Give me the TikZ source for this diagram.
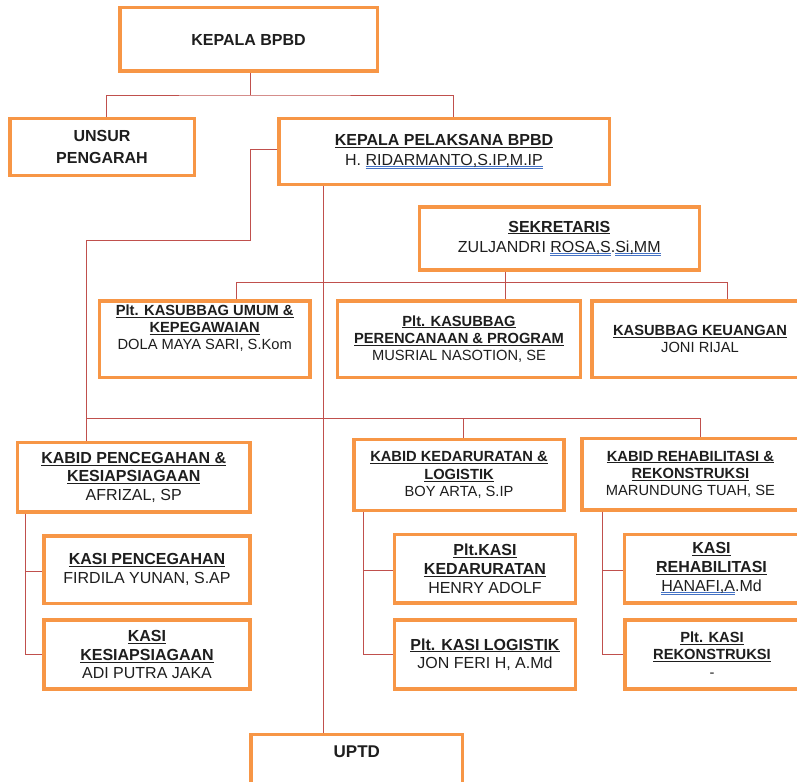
\documentclass[tikz,border=0pt]{standalone}
\usepackage{fontspec}
\setmainfont{Liberation Sans}
\definecolor{boxorange}{HTML}{F79646}
\definecolor{linkred}{HTML}{C0504D}
\definecolor{spell}{HTML}{4472C4}
\definecolor{nametext}{HTML}{1E1E1E}
\newsavebox\bluubox
\newsavebox\ttlbox
\newcommand\bluu[1]{\sbox\bluubox{#1}\rlap{\color{spell}\rule[-1.8pt]{\wd\bluubox}{0.6pt}}\rlap{\color{spell}\rule[-3.6pt]{\wd\bluubox}{0.6pt}}\usebox\bluubox}
\newcommand\ttl[1]{\sbox\ttlbox{\textbf{#1}}\rlap{\rule[-2.2pt]{\wd\ttlbox}{0.8pt}}\usebox\ttlbox}
\newcommand\szL{\fontsize{16}{18.7}\selectfont}
\newcommand\szS{\fontsize{14.7}{17.3}\selectfont}
\tikzset{
  orgbox/.style={draw=boxorange, line width=3.5pt, fill=white, inner sep=0pt, align=center, text=nametext},
  conn/.style={draw=linkred, line width=0.9pt},
}
\begin{document}
\begin{tikzpicture}[x=1pt,y=-1pt]
\useasboundingbox (0,0) rectangle (797,781);
\fill[white] (0,0) rectangle (797,781);
\clip (0,0) rectangle (797,781);

% boxes
\node[orgbox, minimum width=257.5pt, minimum height=63.5pt, font=\szL\bfseries] (kepala) at (248.5,39.5) {KEPALA BPBD};
\node[orgbox, minimum width=184.5pt, minimum height=56.5pt, font=\fontsize{16}{22}\selectfont\bfseries] (unsur) at (102,147) {UNSUR\\PENGARAH};
\node[orgbox, minimum width=330.5pt, minimum height=65.5pt, font=\fontsize{16}{20}\selectfont] (pelaksana) at (444,151.5) {\ttl{KEPALA PELAKSANA BPBD}\\H. \bluu{RIDARMANTO,S.IP,M.IP}};
\node[orgbox, minimum width=280pt, minimum height=63pt, font=\fontsize{16}{20}\selectfont] (sek) at (559.3,238.3) {\ttl{SEKRETARIS}\\ZULJANDRI \bluu{ROSA,S}.\bluu{Si,MM}};

\node[orgbox, minimum width=210.5pt, minimum height=76.5pt, font=\szS] (umum) at (204.7,339) {\ttl{Plt. KASUBBAG UMUM \&}\\\ttl{KEPEGAWAIAN}\\DOLA MAYA SARI, S.Kom\\[6pt]};
\node[orgbox, minimum width=243pt, minimum height=76.5pt, font=\szS] (pere) at (459,339) {\ttl{Plt. KASUBBAG}\\\ttl{PERENCANAAN \& PROGRAM}\\MUSRIAL NASOTION, SE};
\node[orgbox, minimum width=216.5pt, minimum height=76.5pt, font=\szS] (keu) at (700,339) {\ttl{KASUBBAG KEUANGAN}\\JONI RIJAL};

\node[orgbox, minimum width=232.5pt, minimum height=69.8pt, font=\szL] (kabidP) at (133.7,477.3) {\ttl{KABID PENCEGAHAN \&}\\\ttl{KESIAPSIAGAAN}\\AFRIZAL, SP};
\node[orgbox, minimum width=206pt, minimum height=67.5pt, font=\szL] (kasiP1) at (147,569.5) {\ttl{KASI PENCEGAHAN}\\FIRDILA YUNAN, S.AP};
\node[orgbox, minimum width=206pt, minimum height=69pt, font=\szL] (kasiP2) at (147,654.6) {\ttl{KASI}\\\ttl{KESIAPSIAGAAN}\\ADI PUTRA JAKA};

\node[orgbox, minimum width=210pt, minimum height=71pt, font=\szS] (kabidK) at (459,475) {\ttl{KABID KEDARURATAN \&}\\\ttl{LOGISTIK}\\BOY ARTA, S.IP};
\node[orgbox, minimum width=181pt, minimum height=68.8pt, font=\szL] (kasiK1) at (485,568.8) {\ttl{Plt.KASI}\\\ttl{KEDARURATAN}\\HENRY ADOLF};
\node[orgbox, minimum width=181pt, minimum height=69pt, font=\szL] (kasiK2) at (485,654.6) {\ttl{Plt. KASI LOGISTIK}\\JON FERI H, A.Md};

\node[orgbox, minimum width=217pt, minimum height=71.5pt, font=\szS] (kabidR) at (690.4,474.2) {\ttl{KABID REHABILITASI \&}\\\ttl{REKONSTRUKSI}\\MARUNDUNG TUAH, SE};
\node[orgbox, minimum width=174pt, minimum height=68.8pt, font=\szL] (kasiR1) at (711.5,568.8) {\ttl{KASI}\\\ttl{REHABILITASI}\\\bluu{HANAFI,A}.Md};
\node[orgbox, minimum width=174pt, minimum height=69pt, font=\szS] (kasiR2) at (712,654.6) {\ttl{Plt. KASI}\\\ttl{REKONSTRUKSI}\\-};

\node[orgbox, minimum width=211.5pt, minimum height=60pt, text height=12pt, text depth=25.4pt, font=\fontsize{17}{20}\selectfont\bfseries] (uptd) at (356.8,764.5) {UPTD};

% bend points
\coordinate (bendA) at (250,240);
\coordinate (bendB) at (86,240);
\coordinate (busL) at (86,418);
\coordinate (busR) at (700,418);

% connectors
\draw[conn] ([xshift=1.5pt]kepala.south) -- ++(0,22) coordinate (tb);
\draw[conn] ([xshift=4pt]unsur.north) |- (tb) -| ([xshift=9pt]pelaksana.north);

\draw[conn] ([yshift=2.5pt]pelaksana.west) -| (bendA) -- (bendB) -- ([xshift=-47.7pt]kabidP.north);
\draw[conn] (busL) -- (busR) -- ([xshift=9.6pt]kabidR.north);
\draw[conn] ([xshift=4pt]kabidK.north) -- ++(0,-19.75);

\draw[conn] ([xshift=-121pt]pelaksana.south) -- ([xshift=-33.8pt]uptd.north);

\draw[conn] ([xshift=-54.3pt]sek.south) -- ++(0,11.3) coordinate (sb);
\draw[conn] ([xshift=31.3pt]umum.north) |- (sb) -| ([xshift=27pt]keu.north);
\draw[conn] (sb) -- ([xshift=46pt]pere.north);

\draw[conn] ([xshift=-108pt]kabidP.south) |- ([yshift=-1.5pt]kasiP1.west);
\draw[conn] ([xshift=-108pt]kabidP.south) |- (kasiP2.west);
\draw[conn] ([xshift=-95.7pt]kabidK.south) |- ([yshift=-2pt]kasiK1.west);
\draw[conn] ([xshift=-95.7pt]kabidK.south) |- (kasiK2.west);
\draw[conn] ([xshift=-88.1pt]kabidR.south) |- ([yshift=-2pt]kasiR1.west);
\draw[conn] ([xshift=-88.1pt]kabidR.south) |- (kasiR2.west);
\end{tikzpicture}
\end{document}
